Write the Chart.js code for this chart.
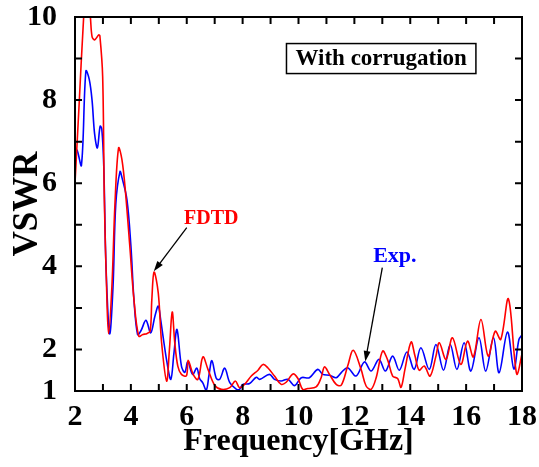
<!DOCTYPE html>
<html>
<head>
<meta charset="utf-8">
<script src="https://cdn.jsdelivr.net/npm/chart.js@4.4.1/dist/chart.umd.min.js"></script>
<style>
  html, body { margin: 0; padding: 0; background: #fff; }
  canvas { display: block; }
</style>
</head>
<body>
<canvas id="vswrChart" width="539" height="467"></canvas>
<script>
// Measured VSWR, "Exp." (blue)
const freqExp = [2.00, 2.07, 2.23, 2.39, 2.51, 2.61, 2.70, 2.80, 2.90, 2.96, 3.03, 3.11, 3.24, 3.36, 3.46,
  3.61, 3.68, 3.86, 4.00, 4.11, 4.24, 4.36, 4.54, 4.71, 4.86, 4.98, 5.07, 5.15, 5.29, 5.43, 5.54, 5.65,
  5.81, 5.93, 6.04, 6.21, 6.36, 6.46, 6.57, 6.70, 6.80, 6.90, 7.06, 7.18, 7.36, 7.54, 7.78, 7.89, 8.01,
  8.25, 8.49, 8.61, 8.96, 9.14, 9.38, 9.62, 9.86, 10.10, 10.39, 10.69, 10.87, 11.11, 11.35, 11.54, 11.76,
  12.06, 12.36, 12.60, 12.88, 13.11, 13.37, 13.61, 13.88, 14.14, 14.38, 14.68, 14.92, 15.19, 15.43, 15.67,
  15.93, 16.17, 16.46, 16.70, 16.98, 17.18, 17.48, 17.71, 17.89, 18.00];
const vswrExp = [6.65, 6.8, 6.43, 8.7, 8.5, 8.0, 7.2, 6.85, 7.37, 7.3, 6.4, 4.0, 2.38, 3.5, 5.5,
  6.28, 6.14, 5.6, 4.5, 3.2, 2.36, 2.45, 2.7, 2.4, 2.8, 3.04, 2.7, 2.32, 1.7, 1.28, 1.9, 2.48,
  1.6, 1.45, 1.7, 1.4, 1.55, 1.3, 1.2, 1.02, 1.4, 1.73, 1.3, 1.28, 1.55, 1.2, 1.04, 1.04, 1.16,
  1.18, 1.33, 1.28, 1.4, 1.28, 1.24, 1.28, 1.13, 1.32, 1.32, 1.52, 1.4, 1.38, 1.32, 1.45, 1.56,
  1.36, 1.7, 1.48, 1.76, 1.48, 1.84, 1.5, 1.94, 1.52, 2.04, 1.52, 2.12, 1.5, 2.12, 1.52,
  2.16, 1.48, 2.28, 1.48, 2.28, 1.44, 2.42, 1.53, 2.24, 2.35];

// Simulated VSWR, "FDTD" (red)
const freqFdtd = [2.00, 2.14, 2.31, 2.39, 2.48, 2.55, 2.61, 2.70, 2.85, 2.89, 2.99, 3.05, 3.13, 3.20, 3.32,
  3.43, 3.56, 3.68, 3.80, 3.96, 4.11, 4.28, 4.43, 4.57, 4.69, 4.75, 4.83, 4.98, 5.10, 5.28, 5.38, 5.48,
  5.57, 5.68, 5.81, 5.99, 6.05, 6.23, 6.40, 6.58, 6.76, 7.00, 7.24, 7.54, 7.74, 7.89, 8.07, 8.31, 8.55,
  8.73, 8.90, 9.14, 9.38, 9.56, 9.80, 9.98, 10.15, 10.33, 10.63, 10.81, 10.93, 11.11, 11.35, 11.53, 11.76,
  11.96, 12.24, 12.42, 12.60, 12.78, 13.01, 13.19, 13.37, 13.55, 13.67, 13.81, 14.03, 14.17, 14.32, 14.50,
  14.71, 14.92, 15.04, 15.28, 15.51, 15.81, 16.05, 16.26, 16.53, 16.79, 17.04, 17.24, 17.51, 17.75, 17.83, 18.00];
const vswrFdtd = [6.0, 7.8, 10.0, 10.6, 10.4, 10.0, 9.53, 9.45, 9.57, 9.55, 8.57, 5.6, 3.5, 2.38, 3.5,
  5.5, 6.85, 6.57, 5.84, 4.5, 3.2, 2.32, 2.36, 2.38, 2.44, 3.2, 3.86, 3.36, 2.16, 1.24, 2.0, 2.9,
  2.17, 1.6, 1.4, 1.37, 1.74, 1.4, 1.28, 1.82, 1.52, 1.14, 1.04, 1.08, 1.24, 1.08, 1.16, 1.36, 1.5,
  1.64, 1.56, 1.36, 1.16, 1.21, 1.41, 1.3, 1.04, 1.06, 1.1, 1.32, 1.58, 1.4, 1.16, 1.14, 1.6,
  1.98, 1.52, 1.12, 1.04, 1.32, 1.96, 1.75, 1.36, 1.3, 1.09, 1.52, 2.18, 1.84, 1.5, 1.6,
  1.36, 1.84, 2.16, 1.76, 2.28, 1.64, 2.2, 1.82, 2.72, 1.84, 2.44, 2.24, 3.22, 1.68, 1.4, 1.9];

const xTickLabels = [2, 4, 6, 8, 10, 12, 14, 16, 18];
const yTickLabels = [1, 2, 4, 6, 8, 10];
const xTickMarks = [3, 4, 5, 6, 7, 8, 9, 10, 11, 12, 13, 14, 15, 16, 17];
const yTickMarks = [2, 3, 4, 5, 6, 7, 8, 9];

const serif = '"Liberation Serif", "Times New Roman", serif';

// Frame, inward ticks, text box and arrows
const framePlugin = {
    id: 'frame',
    afterDatasetsDraw(chart) {
        const { ctx, chartArea: a, scales: { x, y } } = chart;
        ctx.save();
        ctx.strokeStyle = '#000';
        ctx.lineWidth = 2;
        ctx.strokeRect(a.left, a.top, a.right - a.left, a.bottom - a.top);

        ctx.beginPath();
        xTickMarks.forEach(v => {
            const px = x.getPixelForValue(v);
            ctx.moveTo(px, a.bottom); ctx.lineTo(px, a.bottom - 7);
            ctx.moveTo(px, a.top); ctx.lineTo(px, a.top + 7);
        });
        yTickMarks.forEach(v => {
            const py = y.getPixelForValue(v);
            ctx.moveTo(a.left, py); ctx.lineTo(a.left + 7, py);
            ctx.moveTo(a.right, py); ctx.lineTo(a.right - 7, py);
        });
        ctx.stroke();

        // "With corrugation" box
        const bx = x.getPixelForValue(12.96), by = y.getPixelForValue(9.0);
        ctx.font = 'bold 23px ' + serif;
        const w = ctx.measureText('With corrugation').width + 18;
        ctx.fillStyle = '#fff';
        ctx.fillRect(bx - w / 2, by - 15, w, 30);
        ctx.lineWidth = 1.5;
        ctx.strokeRect(bx - w / 2, by - 15, w, 30);
        ctx.fillStyle = '#000';
        ctx.textAlign = 'center';
        ctx.textBaseline = 'middle';
        ctx.fillText('With corrugation', bx, by + 1);

        // labels
        ctx.font = 'bold 20px ' + serif;
        ctx.fillStyle = '#ff0000';
        ctx.fillText('FDTD', x.getPixelForValue(6.88), y.getPixelForValue(5.15));
        ctx.font = 'bold 22px ' + serif;
        ctx.fillStyle = '#0000ff';
        ctx.fillText('Exp.', x.getPixelForValue(13.45), y.getPixelForValue(4.24));

        // arrows
        drawArrow(ctx, x.getPixelForValue(6.0), y.getPixelForValue(4.93),
                  x.getPixelForValue(4.82), y.getPixelForValue(3.88));
        drawArrow(ctx, x.getPixelForValue(13.0), y.getPixelForValue(3.97),
                  x.getPixelForValue(12.39), y.getPixelForValue(1.71));
        ctx.restore();
    }
};

function drawArrow(ctx, x1, y1, x2, y2) {
    const ang = Math.atan2(y2 - y1, x2 - x1);
    const len = 11, half = 0.32;
    ctx.strokeStyle = '#000';
    ctx.fillStyle = '#000';
    ctx.lineWidth = 1.3;
    ctx.beginPath();
    ctx.moveTo(x1, y1);
    ctx.lineTo(x2 - Math.cos(ang) * len * 0.8, y2 - Math.sin(ang) * len * 0.8);
    ctx.stroke();
    ctx.beginPath();
    ctx.moveTo(x2, y2);
    ctx.lineTo(x2 - len * Math.cos(ang - half), y2 - len * Math.sin(ang - half));
    ctx.lineTo(x2 - len * Math.cos(ang + half), y2 - len * Math.sin(ang + half));
    ctx.closePath();
    ctx.fill();
}

new Chart(document.getElementById('vswrChart'), {
    type: 'line',
    data: {
        datasets: [
            {
                label: 'FDTD',
                data: freqFdtd.map((f, i) => ({ x: f, y: vswrFdtd[i] })),
                borderColor: '#ff0000',
                borderWidth: 1.6,
                pointRadius: 0,
                tension: 0.35,
                fill: false
            },
            {
                label: 'Exp.',
                data: freqExp.map((f, i) => ({ x: f, y: vswrExp[i] })),
                borderColor: '#0000ff',
                borderWidth: 1.6,
                pointRadius: 0,
                tension: 0.35,
                fill: false
            }
        ]
    },
    options: {
        responsive: false,
        animation: false,
        layout: { padding: { left: 0, right: 17, top: 17, bottom: 0 } },
        plugins: {
            legend: { display: false },
            tooltip: { enabled: false }
        },
        scales: {
            x: {
                type: 'linear',
                min: 2,
                max: 18,
                afterBuildTicks: s => { s.ticks = xTickLabels.map(v => ({ value: v })); },
                afterFit: s => { s.height = 76; s.paddingLeft = 0; s.paddingRight = 0; },
                grid: { display: false },
                border: { display: false },
                ticks: {
                    color: '#000',
                    padding: 0,
                    maxRotation: 0,
                    autoSkip: false,
                    font: { family: serif, size: 30, weight: 'bold' }
                },
                title: {
                    display: true,
                    text: 'Frequency[GHz]',
                    color: '#000',
                    padding: { top: 0, bottom: 6 },
                    font: { family: serif, size: 32, weight: 'bold' }
                }
            },
            y: {
                min: 1,
                max: 10,
                afterBuildTicks: s => { s.ticks = yTickLabels.map(v => ({ value: v })); },
                afterFit: s => { s.width = 75; s.paddingTop = 0; s.paddingBottom = 0; },
                grid: { display: false },
                border: { display: false },
                ticks: {
                    color: '#000',
                    padding: 10,
                    autoSkip: false,
                    font: { family: serif, size: 30, weight: 'bold' }
                },
                title: {
                    display: true,
                    text: 'VSWR',
                    color: '#000',
                    padding: { top: 7, bottom: 0 },
                    font: { family: serif, size: 35, weight: 'bold' }
                }
            }
        }
    },
    plugins: [framePlugin]
});
</script>
</body>
</html>
